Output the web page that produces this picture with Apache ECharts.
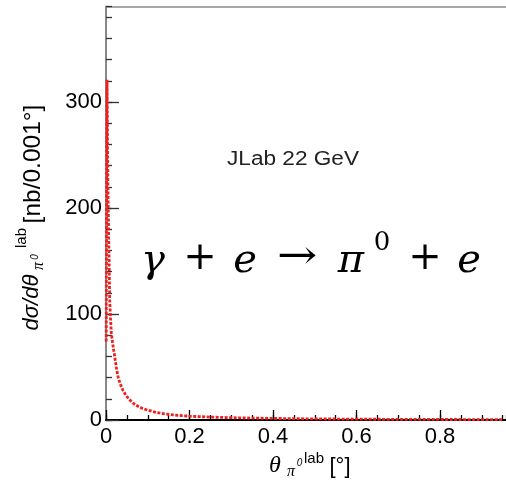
<!DOCTYPE html>
<html>
<head>
<meta charset="utf-8">
<script src="https://cdn.jsdelivr.net/npm/echarts@6/dist/echarts.min.js"></script>
<style>
html,body{margin:0;padding:0;background:#fff;}
#c{width:506px;height:484px;}
</style>
</head>
<body>
<div id="c"></div>
<script>
// ---- data ----
const thetaDeg = [0.0005, 0.0015, 0.0025, 0.0035, 0.0045, 0.0055, 0.0065, 0.0075, 0.0089, 0.0105,
  0.0127, 0.016, 0.0208, 0.0245, 0.0287, 0.034, 0.0407, 0.048, 0.0568, 0.066, 0.0766, 0.0858,
  0.0958, 0.11, 0.121, 0.14, 0.16, 0.18, 0.2, 0.24, 0.28, 0.32, 0.36, 0.4, 0.45, 0.5, 0.55,
  0.6, 0.65, 0.7, 0.75, 0.8, 0.85, 0.9, 0.95];
const dSigma = [74, 250, 321, 265, 225, 195, 170, 150, 113, 98,
  82, 72, 60, 50, 41, 34, 28, 23, 19, 15.5, 13, 11.2,
  9.8, 8.2, 7.0, 5.8, 4.9, 4.2, 3.6, 2.9, 2.4, 2.0, 1.7, 1.5, 1.25, 1.05, 0.9,
  0.8, 0.7, 0.6, 0.55, 0.5, 0.45, 0.4, 0.38];
const xTickValues = [0, 0.2, 0.4, 0.6, 0.8];
const yTickValues = [0, 100, 200, 300];
const xMinorStep = 0.05, yMinorStep = 20;
const yMax = 390;      // frame top
const xMax = 0.958;    // visible right edge

const points = thetaDeg.map((t, i) => [t, dSigma[i]]);

const chart = echarts.init(document.getElementById('c'), null, {renderer: 'canvas'});
const sans = 'Liberation Sans, Arial, sans-serif';
const serif = 'DejaVu Serif, serif';

function txt(x, y, s, size, opts) {
  opts = opts || {};
  return {
    type: 'text', x: x, y: y, scaleX: opts.scaleX || 1,
    style: {
      text: s, fill: opts.color || '#000',
      font: (opts.italic ? 'italic ' : '') + size + 'px ' + (opts.family || sans),
      textAlign: opts.align || 'center', textVerticalAlign: 'middle'
    }
  };
}
const isIn = (arr, v) => arr.some(t => Math.abs(t - v) < 1e-9);

const option = {
  animation: false,
  backgroundColor: '#fff',
  grid: {left: 106, right: 0, top: 6.7, bottom: 64, containLabel: false, outerBoundsMode: 'none'},
  xAxis: [{
    type: 'value', min: 0, max: xMax, interval: 0.2, position: 'bottom',
    axisLine: {show: true, lineStyle: {color: '#000', width: 2}},
    axisTick: {show: true, inside: true, length: 10, lineStyle: {color: '#000', width: 1.3},
      customValues: xTickValues},
    splitLine: {show: false},
    axisLabel: {
      fontSize: 22, fontFamily: sans, color: '#000', margin: 6,
      customValues: xTickValues,
      formatter: v => isIn(xTickValues, v) ? String(+v.toFixed(1)) : ''
    }
  }, {
    type: 'value', min: 0, max: xMax, interval: xMinorStep, position: 'bottom',
    axisLine: {show: false},
    axisTick: {show: true, inside: true, length: 5, lineStyle: {color: '#000', width: 1.3}},
    axisLabel: {show: false}, splitLine: {show: false}
  }, {
    type: 'value', min: 0, max: xMax, position: 'top',
    axisLine: {show: true, lineStyle: {color: '#8a8a8a', width: 1.6}},
    axisTick: {show: false}, axisLabel: {show: false}, splitLine: {show: false}
  }],
  yAxis: [{
    type: 'value', min: 0, max: yMax, interval: 100, position: 'left',
    axisLine: {show: true, lineStyle: {color: '#888', width: 2}},
    axisTick: {show: true, inside: true, length: 13, lineStyle: {color: '#333', width: 1.3},
      customValues: yTickValues},
    splitLine: {show: false},
    axisLabel: {
      fontSize: 22, fontFamily: sans, color: '#000', margin: 4,
      customValues: yTickValues,
      formatter: v => isIn(yTickValues, v) ? String(v) : ''
    }
  }, {
    type: 'value', min: 0, max: yMax, interval: yMinorStep, position: 'left',
    axisLine: {show: false},
    axisTick: {show: true, inside: true, length: 6, lineStyle: {color: '#333', width: 1.3}},
    axisLabel: {show: false}, splitLine: {show: false}
  }],
  series: [{
    type: 'line', data: points, showSymbol: false, smooth: false,
    xAxisIndex: 0, yAxisIndex: 0, clip: true,
    lineStyle: {color: '#ee2020', width: 2.8, type: [3, 1.5]}
  }],
  graphic: [
    // annotation
    txt(293, 159, 'JLab 22 GeV', 20, {color: '#222', scaleX: 1.13}),
    // formula
    txt(153, 262, 'γ', 40, {italic: true, family: serif}),
    txt(200, 259, '+', 40, {family: serif}),
    txt(245, 262, 'e', 40, {italic: true, family: serif}),
    txt(297, 258, '→', 40, {family: serif, scaleX: 1.2}),
    txt(351, 262, 'π', 40, {italic: true, family: serif}),
    txt(382, 243, '0', 26, {family: serif}),
    txt(425, 259, '+', 40, {family: serif}),
    txt(469, 262, 'e', 40, {italic: true, family: serif}),
    // x axis title
    txt(275, 466, 'θ', 24, {italic: true, family: 'Liberation Serif, serif'}),
    txt(291, 472, 'π', 16, {italic: true, family: 'Liberation Serif, serif'}),
    txt(299.5, 463, '0', 10, {italic: true}),
    txt(314, 459, 'lab', 15, {}),
    txt(340, 467, '[°]', 22, {}),
    // y axis title (rotated)
    {
      type: 'group', x: 32, y: 330, rotation: Math.PI / 2,
      children: [
        txt(27.5, 0, 'dσ/dθ', 22, {italic: true}),
        txt(64, 7, 'π', 16, {italic: true, family: 'Liberation Serif, serif'}),
        txt(73, 3, '0', 10, {italic: true}),
        txt(92, -10, 'lab', 15, {}),
        txt(166, 1, '[nb/0.001°]', 24.5, {})
      ]
    }
  ]
};
chart.setOption(option);
</script>
</body>
</html>
